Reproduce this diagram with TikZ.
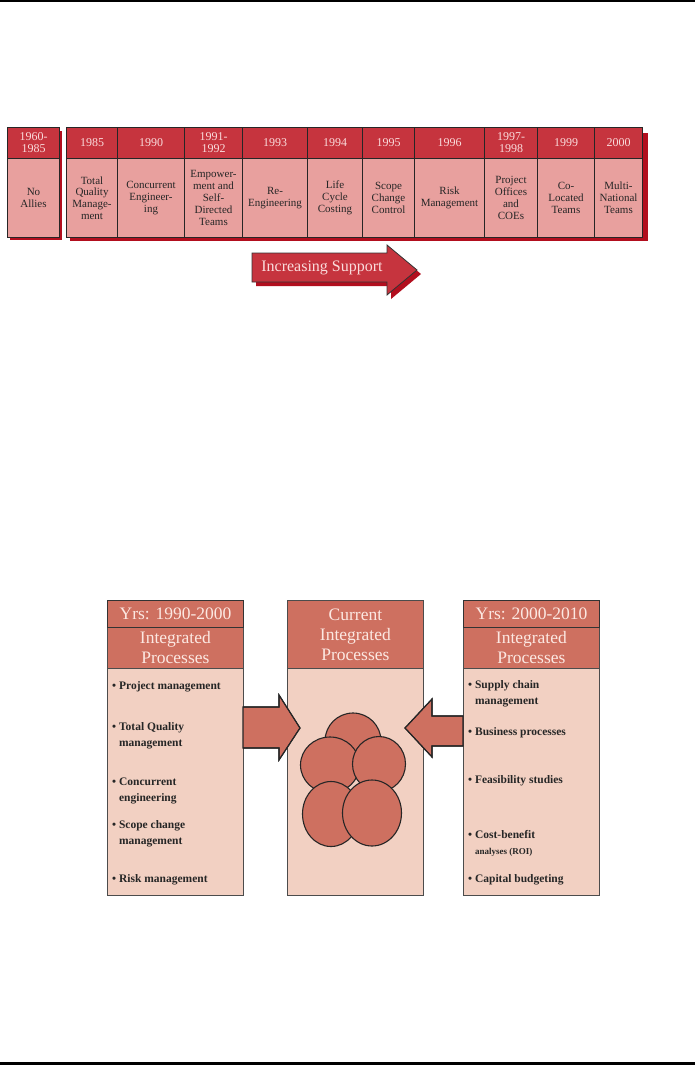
\documentclass[tikz,border=0pt]{standalone}
\usepackage{fontspec}
\setmainfont{Liberation Serif}
\usetikzlibrary{shapes.geometric}
\definecolor{yrred}{RGB}{198,52,62}
\definecolor{yrtext}{RGB}{250,220,220}
\definecolor{tlpink}{RGB}{232,160,158}
\definecolor{tlshadow}{RGB}{178,14,30}
\definecolor{salmon}{RGB}{206,112,96}
\definecolor{peach}{RGB}{242,208,194}
\definecolor{hdtext}{RGB}{252,232,226}
\newcommand\blt{\textbullet\ }
\newcommand\bli{\phantom{\textbullet}\ }
\begin{document}
\begin{tikzpicture}[x=1pt,y=-1pt,every node/.style={inner sep=1pt,align=center},
  yrcell/.style={draw=black!85,line width=1pt,fill=yrred,text=yrtext,anchor=north west,minimum height=31pt,font=\fontsize{12}{12}\selectfont},
  txcell/.style={draw=black!85,line width=1pt,fill=tlpink,text=black!85,anchor=north west,minimum height=79pt,font=\fontsize{11}{11.8}\selectfont},
  yrhead/.style={draw=black!80,line width=1.2pt,fill=salmon,text=hdtext,anchor=north west,minimum width=136pt,minimum height=27pt,font=\fontsize{17.5}{20}\selectfont},
  iphead/.style={draw=black!70,line width=0.8pt,fill=salmon,text=hdtext,anchor=north west,minimum width=136pt,minimum height=41pt,font=\fontsize{17.5}{20}\selectfont},
  ipbody/.style={draw=black!70,line width=0.8pt,fill=peach,anchor=north west,minimum width=136pt,minimum height=227pt},
  item/.style={anchor=west,align=left,text=black!85,font=\fontsize{11.5}{16}\selectfont\bfseries},
  blob/.style={ellipse,draw=black!85,line width=1.1pt,fill=salmon,inner sep=0pt},
  blockarrow/.style={fill=salmon,draw=black!85,line width=1.1pt}]
  \useasboundingbox (0,0) rectangle (695,1066);
  \draw[line width=2.2pt] (0,1) -- (695,1);
  \draw[line width=3pt] (0,1063) -- (695,1063);

  % timeline
  \fill[tlshadow] (10,131) rectangle (62,240);
  \fill[tlshadow] (70,133) rectangle (648,241);
  \node[yrcell,minimum width=52] (yr0) at (7,127) {1960-\\1985};
  \node[txcell,minimum width=52] (tx0) at (7,158) {No\\Allies};
  \foreach \xa/\xb/\yr/\txt [count=\i] in {66/117/1985/{Total\\Quality\\Manage-\\ment},
      117/184/1990/{Concurrent\\Engineer-\\ing}, 184/242/{1991-\\1992}/{Empower-\\ment and\\Self-\\Directed\\Teams},
      242/307/1993/{Re-\\Engineering}, 307/362/1994/{Life\\Cycle\\Costing}, 362/414/1995/{Scope\\Change\\Control},
      414/484/1996/{Risk\\Management}, 484/537/{1997-\\1998}/{Project\\Offices\\and\\COEs},
      537/594/1999/{Co-\\Located\\Teams}, 594/642/2000/{Multi-\\National\\Teams}}{
    \node[yrcell,minimum width=\xb-\xa] (yr\i) at (\xa,127) {\yr};
    \node[txcell,minimum width=\xb-\xa] (tx\i) at (\xa,158) {\txt};
  }
  \fill[tlshadow] (256,257) -- (391,257) -- (391,249) -- (421,274) -- (391,299) -- (391,286) -- (256,286) -- cycle;
  \filldraw[fill=yrred,draw=black!80,line width=0.8pt] (252,253) -- (387,253) -- (387,245) -- (417,270) -- (387,295) -- (387,282) -- (252,282) -- cycle;
  \node[text=yrtext,font=\fontsize{16}{16}\selectfont] (sup) at (322,268) {Increasing Support};

  % integrated processes
  \node[ipbody] (lbody) at (107,668) {};
  \node[iphead] (lip) at (107,627) {Integrated\\Processes};
  \node[yrhead] (lyr) at (107,600) {Yrs: 1990-2000};
  \node[ipbody] (mbody) at (287,668) {};
  \node[iphead,minimum height=68pt] (mhd) at (287,600) {Current\\Integrated\\Processes};
  \node[ipbody] (rbody) at (463,668) {};
  \node[iphead] (rip) at (463,627) {Integrated\\Processes};
  \node[yrhead] (ryr) at (463,600) {Yrs: 2000-2010};

  \node[item] (l1) at (111,687) {\blt Project management};
  \node[item] (l2) at (111,736) {\blt Total Quality\\\bli management};
  \node[item] (l3) at (111,791) {\blt Concurrent\\\bli engineering};
  \node[item] (l4) at (111,834) {\blt Scope change\\\bli management};
  \node[item] (l5) at (111,880) {\blt Risk management};
  \node[item] (r1) at (467,694) {\blt Supply chain\\\bli management};
  \node[item] (r2) at (467,733) {\blt Business processes};
  \node[item] (r3) at (467,781) {\blt Feasibility studies};
  \node[item] (r4) at (467,843) {\blt Cost-benefit\\\bli {\fontsize{9}{16}\selectfont analyses (ROI)}};
  \node[item] (r5) at (467,880) {\blt Capital budgeting};

  \fill[blockarrow] (243,707) -- (279,707) -- (279,695) -- (300,728) -- (279,760) -- (279,748) -- (243,748) -- cycle;
  \draw[blockarrow,fill=none] (243,707) -- (279,707) -- (279,695) -- (300,728) -- (279,760) -- (279,748) -- (243,748);
  \fill[blockarrow] (463,716) -- (432,716) -- (432,699) -- (405,728) -- (432,757) -- (432,746) -- (463,746) -- cycle;
  \draw[blockarrow,fill=none] (463,716) -- (432,716) -- (432,699) -- (405,728) -- (432,757) -- (432,746) -- (463,746);

  \node[blob,minimum width=56,minimum height=56] (c1) at (353,741) {};
  \node[blob,minimum width=59,minimum height=56] (c2) at (330,765) {};
  \node[blob,minimum width=53,minimum height=55] (c3) at (379,764) {};
  \node[blob,minimum width=57,minimum height=65] (c4) at (331,814) {};
  \node[blob,minimum width=59,minimum height=66] (c5) at (372,813) {};
\end{tikzpicture}
\end{document}
